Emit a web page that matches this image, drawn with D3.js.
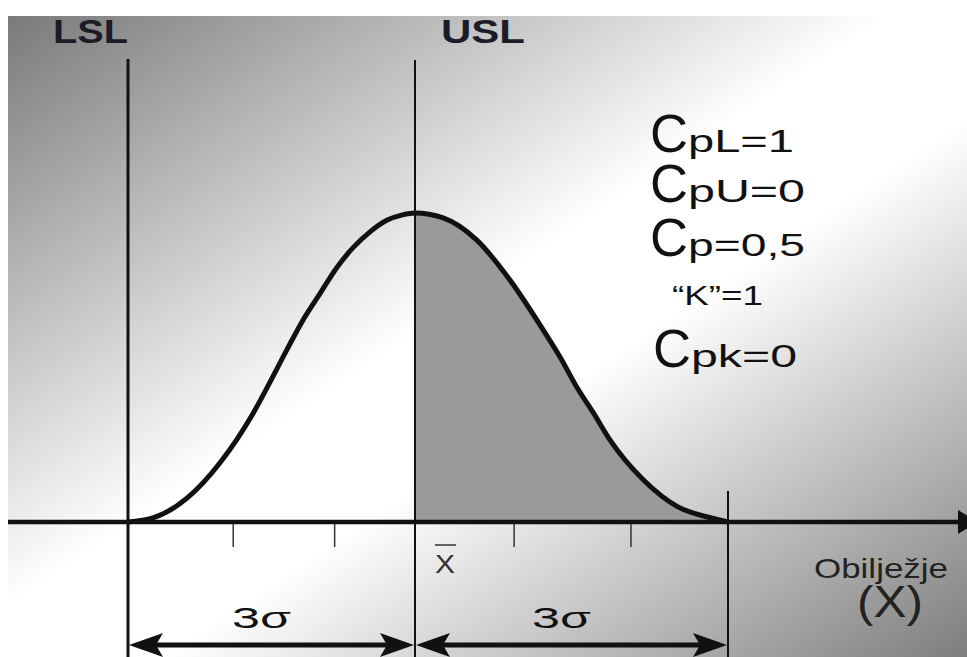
<!DOCTYPE html>
<html>
<head>
<meta charset="utf-8">
<script src="https://cdn.jsdelivr.net/npm/d3@7"></script>
<style>
  html, body { margin: 0; padding: 0; background: #ffffff; }
  svg { display: block; }
  text { font-family: "Liberation Sans", Arial, Helvetica, sans-serif; }
</style>
</head>
<body>
<svg id="chart" width="967" height="657"></svg>
<script>
// ---- data (x in sigma units, y as relative density) ----
const curveX = [-3, -2.74, -2.38, -2.04, -1.69, -1.52, -1.34, -1.17, -0.99, -0.82, -0.65, -0.47, -0.29, -0.13, 0,
                0.27, 0.59, 0.91, 1.23, 1.39, 1.55, 1.71, 1.87, 2.19, 2.52, 2.84, 3];
const curveY = [0, 0.013, 0.078, 0.191, 0.353, 0.45, 0.557, 0.654, 0.741, 0.822, 0.887, 0.939, 0.977, 0.994, 1,
                0.984, 0.913, 0.783, 0.621, 0.534, 0.437, 0.353, 0.265, 0.136, 0.049, 0.013, 0];
const specLimits = [
  { name: "LSL", x: -3 },
  { name: "USL", x: 0 }
];
const tickValues = [-1.9, -0.84, 0.95, 2.07];
const meanValue = 0;
const rightBound = 3;
const spans = [
  { from: -3, to: 0, label: "3\u03C3" },
  { from: 0, to: 3, label: "3\u03C3" }
];
const indexLabels = ["pL=1", "pU=0", "p=0,5", "\u201CK\u201D=1", "pk=0"];
const indexHasC = [true, true, true, false, true];
const axisLabel = ["Obilježje", "(X)"];

// ---- drawing ----
const W = 967, H = 657;
const svg = d3.select("#chart");

const x = d3.scaleLinear().domain([-3, 0, 3]).range([128, 415, 728]);
const y = d3.scaleLinear().domain([0, 1]).range([522, 213]);

// background gradient
const defs = svg.append("defs");
const grad = defs.append("linearGradient").attr("id", "bg")
  .attr("x1", 0).attr("y1", 0).attr("x2", 1).attr("y2", 1);
[[0, "#7a7a7a"], [0.46, "#ffffff"], [0.58, "#ffffff"], [1, "#7e7e7e"]].forEach(([o, c]) =>
  grad.append("stop").attr("offset", o).attr("stop-color", c));
svg.append("rect").attr("x", 8).attr("y", 16).attr("width", W - 8).attr("height", H - 16)
  .attr("fill", "url(#bg)");

const pts = curveX.map((v, i) => ({ x: v, y: curveY[i] }));

// shaded area right of the mean
const areaGen = d3.area().x(d => x(d.x)).y0(y(0)).y1(d => y(d.y)).curve(d3.curveMonotoneX);
svg.append("path").datum(pts.filter(d => d.x >= meanValue))
  .attr("d", areaGen).attr("fill", "#9a9a9a");

// vertical lines
svg.append("line").attr("x1", x(-3)).attr("x2", x(-3)).attr("y1", 59).attr("y2", H)
  .attr("stroke", "#111").attr("stroke-width", 3);
svg.append("line").attr("x1", x(0)).attr("x2", x(0)).attr("y1", 60).attr("y2", H)
  .attr("stroke", "#111").attr("stroke-width", 2);
svg.append("line").attr("x1", x(rightBound)).attr("x2", x(rightBound)).attr("y1", 491).attr("y2", H)
  .attr("stroke", "#111").attr("stroke-width", 2);

// x axis line with arrow
svg.append("line").attr("x1", 8).attr("x2", 960).attr("y1", y(0)).attr("y2", y(0))
  .attr("stroke", "#111").attr("stroke-width", 4.5);
svg.append("path")
  .attr("d", `M958,${y(0) - 12} L978,${y(0)} L958,${y(0) + 12} Z`)
  .attr("fill", "#111");

// ticks
svg.selectAll("line.tick").data(tickValues).enter().append("line")
  .attr("class", "tick")
  .attr("x1", d => x(d)).attr("x2", d => x(d))
  .attr("y1", y(0) + 2).attr("y2", 547)
  .attr("stroke", "#333").attr("stroke-width", 1.5);

// curve
const lineGen = d3.line().x(d => x(d.x)).y(d => y(d.y)).curve(d3.curveMonotoneX);
svg.append("path").datum(pts).attr("d", lineGen)
  .attr("fill", "none").attr("stroke", "#111").attr("stroke-width", 5)
  .attr("stroke-linejoin", "round");

// spec limit labels
const limLabelPos = { LSL: { x: 53, len: 75 }, USL: { x: 441, len: 84 } };
svg.selectAll("text.lim").data(specLimits).enter().append("text")
  .attr("class", "lim")
  .attr("x", d => limLabelPos[d.name].x).attr("y", 43)
  .attr("font-size", 33).attr("font-weight", "bold").attr("fill", "#1c1c28")
  .attr("textLength", d => limLabelPos[d.name].len).attr("lengthAdjust", "spacingAndGlyphs")
  .text(d => d.name);

// capability indices (one text element per line, big "C" + smaller rest)
const idxBase = [152, 202, 256, 305, 367];
const idxLen = [106, 117, 117, 91, 106];
indexLabels.forEach((lab, i) => {
  if (indexHasC[i]) {
    const t = svg.append("text").attr("x", i === 4 ? 653 : 650).attr("y", idxBase[i]).attr("fill", "#111");
    t.append("tspan").attr("font-size", 54)
      .attr("textLength", 38).attr("lengthAdjust", "spacingAndGlyphs").text("C");
    t.append("tspan").attr("font-size", 31)
      .attr("textLength", idxLen[i]).attr("lengthAdjust", "spacingAndGlyphs").text(lab);
  } else {
    svg.append("text").attr("x", 672).attr("y", idxBase[i])
      .attr("font-size", 27).attr("fill", "#111")
      .attr("textLength", idxLen[i]).attr("lengthAdjust", "spacingAndGlyphs")
      .text(lab);
  }
});

// x-bar label
svg.append("text").attr("x", x(meanValue) + 20).attr("y", 573)
  .attr("font-size", 25).attr("fill", "#333").attr("text-anchor", "start")
  .attr("textLength", 20).attr("lengthAdjust", "spacingAndGlyphs")
  .text("X");
svg.append("line").attr("x1", x(meanValue) + 20).attr("x2", x(meanValue) + 41)
  .attr("y1", 545).attr("y2", 545).attr("stroke", "#333").attr("stroke-width", 1.5);

// axis label (two lines)
const ax = svg.append("text").attr("fill", "#222");
ax.append("tspan").attr("x", 814).attr("y", 578).attr("font-size", 28)
  .attr("textLength", 134).attr("lengthAdjust", "spacingAndGlyphs").text(axisLabel[0]);
ax.append("tspan").attr("x", 857).attr("y", 617).attr("font-size", 44)
  .attr("textLength", 66).attr("lengthAdjust", "spacingAndGlyphs").text(axisLabel[1]);

// 3-sigma dimension arrows
const ay = 645;
spans.forEach(s => {
  const x0 = x(s.from), x1 = x(s.to);
  svg.append("line").attr("x1", x0 + 20).attr("x2", x1 - 20).attr("y1", ay).attr("y2", ay)
    .attr("stroke", "#111").attr("stroke-width", 5);
  svg.append("path").attr("d", `M${x0 + 1},${ay} L${x0 + 35},${ay - 12} L${x0 + 28},${ay} L${x0 + 35},${ay + 12} Z`)
    .attr("fill", "#111");
  svg.append("path").attr("d", `M${x1 - 1},${ay} L${x1 - 35},${ay - 12} L${x1 - 28},${ay} L${x1 - 35},${ay + 12} Z`)
    .attr("fill", "#111");
  svg.append("text").attr("x", (x0 + x1) / 2 - 10).attr("y", 628)
    .attr("font-size", 30).attr("fill", "#111").attr("text-anchor", "middle")
    .attr("textLength", 59).attr("lengthAdjust", "spacingAndGlyphs")
    .text(s.label);
});
</script>
</body>
</html>
